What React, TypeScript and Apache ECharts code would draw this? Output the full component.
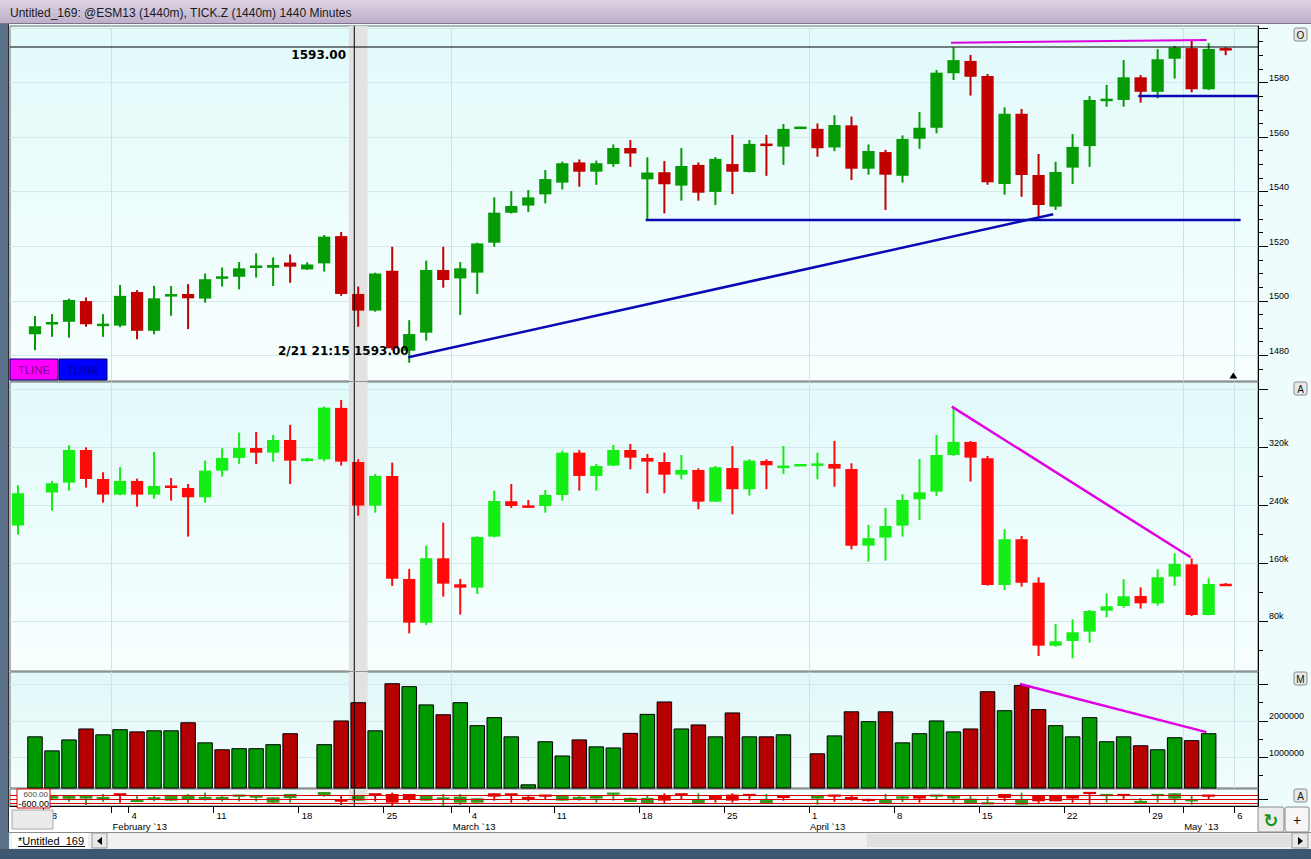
import { useEffect, useRef } from 'react';
import * as echarts from 'echarts';

const TITLE = 'Untitled_169: @ESM13 (1440m), TICK.Z (1440m) 1440 Minutes';
const MONTH_NAMES = ['January', 'February', 'March', 'April', 'May', 'June'];
const FIRST_DAY = [2013, 0, 24];
const LAST_DAY = [2013, 4, 6];

// ---- @ESM13 daily candles (slot 0 = Jan 24) ----
const priceOpen = [null, 1487.7, 1491.4, 1492.3, 1499.9, 1490.9, 1490.9, 1503.2, 1489.0, 1501.8, 1502.5, 1500.8, 1508.3, 1508.8, 1512.3, 1512.1, 1514.0, 1511.5, 1513.7, 1523.7, 1502.5, 1496.4, 1511.0, 1481.7, 1488.3, 1511.3, 1508.2, 1510.3, 1521.3, 1532.3, 1534.9, 1539.0, 1543.3, 1550.7, 1547.3, 1550.1, 1556.0, 1544.5, 1547.1, 1542.2, 1549.8, 1539.9, 1550.1, 1547.2, 1557.5, 1556.5, 1563.25, 1563.0, 1556.2, 1564.3, 1548.4, 1554.5, 1545.8, 1559.4, 1563.4, 1583.4, 1587.9, 1582.4, 1542.8, 1568.5, 1546.1, 1534.5, 1548.8, 1556.7, 1573.3, 1573.6, 1581.9, 1576.6, 1588.7, 1592.6, 1577.5, 1592.6];
const priceHigh = [null, 1494.4, 1495.1, 1500.8, 1501.2, 1495.1, 1505.8, 1503.9, 1505.5, 1505.4, 1506.1, 1510.0, 1512.2, 1514.2, 1517.4, 1515.9, 1517.0, 1514.1, 1524.1, 1525.2, 1505.2, 1510.3, 1519.8, 1492.9, 1514.7, 1519.8, 1514.2, 1521.3, 1537.9, 1540.2, 1540.6, 1547.9, 1551.0, 1551.8, 1551.4, 1557.3, 1558.9, 1552.6, 1551.2, 1556.0, 1550.7, 1552.7, 1560.8, 1558.9, 1560.8, 1564.8, 1563.75, 1565.0, 1568.0, 1567.5, 1557.3, 1555.3, 1560.6, 1569.2, 1584.6, 1592.9, 1590.1, 1583.1, 1570.9, 1570.3, 1553.8, 1550.9, 1561.1, 1575.0, 1579.1, 1588.2, 1582.7, 1592.2, 1593.4, 1595.3, 1594.4, 1592.9];
const priceLow = [null, 1481.9, 1486.8, 1486.5, 1490.5, 1486.8, 1490.3, 1485.9, 1487.7, 1494.5, 1489.6, 1499.3, 1505.2, 1504.2, 1508.5, 1505.4, 1506.6, 1511.3, 1510.7, 1501.8, 1490.5, 1496.0, 1481.9, 1477.3, 1485.4, 1504.8, 1494.8, 1502.5, 1519.8, 1532.0, 1532.5, 1535.7, 1540.8, 1541.8, 1542.5, 1549.1, 1549.1, 1529.6, 1532.0, 1536.7, 1536.7, 1535.1, 1539.1, 1547.0, 1545.8, 1549.8, 1563.0, 1552.8, 1554.8, 1544.3, 1546.2, 1533.3, 1543.3, 1555.7, 1561.4, 1580.9, 1575.2, 1542.5, 1538.9, 1538.1, 1530.8, 1533.3, 1542.8, 1549.1, 1571.1, 1571.1, 1572.6, 1574.2, 1581.4, 1576.4, 1577.3, 1590.0];
const priceClose = [null, 1490.7, 1492.1, 1500.3, 1491.4, 1491.4, 1501.8, 1489.0, 1500.9, 1502.2, 1500.9, 1507.9, 1508.7, 1511.9, 1512.7, 1513.1, 1512.5, 1513.3, 1523.5, 1502.5, 1496.4, 1510.0, 1482.6, 1487.8, 1511.3, 1507.6, 1511.9, 1521.0, 1532.3, 1534.7, 1537.9, 1544.6, 1550.4, 1547.3, 1550.4, 1556.0, 1554.0, 1547.0, 1542.7, 1549.4, 1539.6, 1552.0, 1547.3, 1557.5, 1556.8, 1563.0, 1563.5, 1555.9, 1564.4, 1548.4, 1554.9, 1546.2, 1559.3, 1563.4, 1583.6, 1588.2, 1582.1, 1543.4, 1568.5, 1546.1, 1535.1, 1547.2, 1556.4, 1573.6, 1573.9, 1581.9, 1576.6, 1588.5, 1592.8, 1577.5, 1592.3, 1591.7];

// ---- TICK.Z daily candles (thousands) ----
const tickOpen = [211.8, null, 257.4, 271.2, 316.3, 276.2, 254.6, 273.5, 254.6, 266.6, 263.8, 250.9, 287.8, 305.3, 319.1, 312.6, 330.1, 302.0, 303.4, 374.4, 299.7, 239.4, 280.4, 138.1, 77.7, 166.6, 130.7, 126.1, 196.6, 245.4, 239.4, 238.9, 254.1, 312.6, 280.4, 294.7, 316.3, 305.3, 299.7, 282.2, 288.7, 244.9, 291.4, 262.0, 301.1, 292.4, 295.0, 295.1, 297.0, 290.1, 184.1, 195.2, 211.8, 248.1, 258.7, 309.4, 327.4, 304.8, 129.8, 192.9, 133.0, 45.9, 52.4, 65.3, 94.3, 100.7, 114.6, 104.4, 141.3, 158.3, 88.3, 130.7];
const tickHigh = [267.5, null, 273.5, 322.8, 320.0, 285.5, 292.4, 276.7, 313.6, 277.6, 269.3, 301.6, 318.6, 340.3, 341.2, 337.0, 350.9, 305.3, 376.2, 385.4, 303.4, 283.2, 298.8, 151.9, 184.1, 215.9, 138.1, 197.0, 260.1, 269.3, 247.2, 261.0, 315.4, 316.3, 297.0, 323.2, 324.6, 310.8, 312.6, 309.4, 291.0, 294.2, 321.8, 303.4, 303.4, 321.8, 295.5, 312.6, 328.8, 297.9, 212.7, 236.2, 255.1, 303.9, 337.0, 376.2, 328.8, 308.0, 206.7, 197.5, 140.4, 75.9, 82.3, 95.2, 118.2, 137.6, 126.5, 151.4, 173.5, 166.6, 139.0, 132.5];
const tickLow = [199.3, null, 232.5, 260.1, 264.3, 243.5, 253.7, 238.0, 249.1, 246.3, 196.6, 243.5, 279.5, 297.0, 297.0, 300.2, 269.3, 300.2, 300.7, 294.7, 225.6, 229.7, 128.4, 62.9, 74.5, 113.6, 88.8, 117.3, 195.6, 236.2, 236.2, 229.7, 246.3, 260.1, 260.1, 294.2, 289.6, 256.4, 256.4, 275.8, 234.3, 244.5, 227.4, 253.2, 262.0, 283.2, 295.0, 275.8, 265.6, 179.0, 162.0, 163.4, 196.6, 219.6, 252.8, 308.0, 272.6, 128.8, 122.9, 127.5, 31.7, 44.6, 28.4, 50.1, 85.1, 98.4, 97.1, 101.2, 128.8, 86.9, 87.9, 128.8];
const tickClose = [256.4, null, 270.3, 316.3, 276.2, 254.6, 273.5, 254.6, 266.6, 264.3, 250.9, 287.8, 305.3, 319.1, 312.6, 330.1, 301.6, 303.4, 374.8, 300.2, 239.4, 280.4, 138.5, 77.7, 166.6, 131.6, 126.1, 196.1, 245.8, 238.9, 236.6, 254.1, 312.6, 280.4, 294.2, 316.3, 305.7, 300.2, 282.2, 288.7, 244.9, 292.4, 262.0, 301.6, 295.1, 293.7, 295.5, 297.0, 290.5, 184.1, 194.3, 211.3, 247.2, 257.8, 309.4, 327.4, 305.7, 129.8, 192.9, 133.0, 45.9, 51.9, 64.4, 93.8, 100.3, 114.1, 104.4, 140.4, 158.8, 88.3, 131.1, 128.8];

// ---- Volume ----
const volume = [null, 1575000, 1190000, 1490000, 1790000, 1630000, 1770000, 1710000, 1740000, 1740000, 1960000, 1410000, 1220000, 1250000, 1250000, 1360000, 1660000, null, 1360000, 2010000, 2510000, 1740000, 3030000, 2950000, 2450000, 2180000, 2510000, 1880000, 2100000, 1575000, 260000, 1440000, 1050000, 1490000, 1300000, 1270000, 1670000, 2190000, 2530000, 1790000, 1900000, 1575000, 2230000, 1575000, 1575000, 1630000, null, 1110000, 1600000, 2260000, 1990000, 2260000, 1410000, 1660000, 2010000, 1710000, 1790000, 2810000, 2290000, 2980000, 2320000, 1880000, 1575000, 2100000, 1440000, 1575000, 1330000, 1220000, 1550000, 1470000, 1660000, null];
const volumeUp = [null, 1, 1, 1, 0, 1, 1, 0, 1, 1, 0, 1, 0, 1, 1, 1, 0, null, 1, 0, 0, 1, 0, 1, 1, 0, 1, 1, 1, 1, 1, 1, 1, 0, 1, 1, 0, 1, 0, 1, 0, 1, 0, 1, 0, 1, null, 0, 1, 0, 1, 0, 1, 1, 1, 1, 0, 0, 1, 0, 0, 1, 1, 1, 1, 1, 0, 1, 1, 0, 1, null];

// ---- Bottom indicator strip ----
const stripOpen = [null, null, 100, 100, 100, 150, 800, -400, 100, -200, -100, 150, 150, 500, 350, -500, 200, null, 500, -150, -200, 800, 800, 800, -200, 100, -500, -500, 900, 800, 250, 600, -200, 150, 100, 800, -400, -700, 500, 800, -600, 500, 700, 700, -600, 400, null, 100, 600, 250, -50, -600, 250, 600, 500, 100, -600, -650, 800, -800, 600, 600, 600, 1000, 600, 700, -450, 600, 100, -300, 600, null];
const stripHigh = [null, null, 500, 500, 500, 800, 800, 500, 600, 600, 800, 1000, 600, 600, 600, 300, 800, null, 1100, 500, 600, 800, 1000, 800, 600, 800, 800, 150, 900, 800, 600, 600, 500, 500, 600, 900, 300, 650, 900, 800, 900, 500, 900, 700, 800, 400, null, 600, 600, 600, 100, 800, 600, 600, 600, 600, 600, 400, 800, 1000, 600, 600, 600, 1000, 700, 700, 200, 700, 900, 600, 600, null];
const stripLow = [null, null, -100, -350, -850, -350, -500, -400, -300, -200, -500, -200, -300, -300, -300, -500, -500, null, 400, -850, -200, -350, -1100, -500, -200, -1100, -850, -500, -200, -500, -300, -100, -200, -200, -500, -200, -400, -700, -700, -100, -600, -500, -500, -200, -600, -200, null, -800, -400, -200, -350, -600, -400, -500, -100, -500, -600, -650, -300, -800, -600, -300, -500, -800, -500, -100, -450, -500, -500, -800, -100, null];
const stripClose = [null, null, 500, 500, 500, 250, 700, -100, 200, 600, 500, 250, 250, 600, 450, 300, 800, null, 1100, -250, 600, 700, -500, 0, 600, 150, 400, 150, 400, 700, 150, 500, 500, 250, 600, 900, 200, 200, -200, 700, -100, -100, -200, 600, 0, 300, null, 600, 500, 150, -150, 0, 300, 100, 600, 600, 100, -550, 200, -100, -300, -300, 100, 900, 700, 600, -350, 700, 900, 0, 500, null];
const stripLevels = [600, 0, -600];

// ---- Axis ticks ----
const priceLabels = [1480, 1500, 1520, 1540, 1560, 1580];
const priceMajor = [1480, 1500, 1520, 1540, 1560, 1580, 1600];
const priceMinor = [1475, 1485, 1490, 1495, 1505, 1510, 1515, 1525, 1530, 1535, 1545, 1550, 1555, 1565, 1570, 1575, 1585, 1590, 1595];
const tickLabels = [80, 160, 240, 320];
const tickMajor = [80, 160, 240, 320, 400];
const tickMinor = [40, 120, 200, 280, 360];
const volumeLabels = [1000000, 2000000];
const volumeMajor = [1000000, 2000000, 3000000];
const volumeMinor = [500000, 1500000, 2500000];

// ---- Drawn annotations (slot, value) ----
const priceResistance = [[54.85, 1594.6], [69.88, 1595.6]];
const priceSupportLow = [[36.9, 1529.6], [71.88, 1529.6]];
const priceUptrend = [[22.95, 1479.3], [60.86, 1531.7]];
const priceSupportHigh = [[65.86, 1575.05], [72.9, 1575.05]];
const tickDivergence = [[54.9, 376.2], [68.94, 168.0]];
const volumeDivergence = [[58.9, 3010000], [69.87, 1690000]];
const cursorSlot = 19.77;
const cursorBand = [19.45, 20.55];
const cursorPrice = 1593;
const lastBarMarker = [71.45, 1472.6];

const X_MIN = -0.47;
const X_MAX = 72.9;
const PRICE_RANGE = [1470.6, 1600.7];
const TICK_RANGE = [10.9, 410.2];
const VOLUME_RANGE = [159000, 3337000];
const STRIP_RANGE = [-1005, 1545];

const FONT = '"Liberation Sans", Arial, sans-serif';
const BOLD = 'bold 12px "DejaVu Sans", Verdana, sans-serif';

function buildDays() {
  const out: { y: number; m: number; d: number; wd: number }[] = [];
  const start = Date.UTC(FIRST_DAY[0], FIRST_DAY[1], FIRST_DAY[2]);
  const end = Date.UTC(LAST_DAY[0], LAST_DAY[1], LAST_DAY[2]);
  for (let t = start; t <= end; t += 86400000) {
    const dt = new Date(t);
    const wd = dt.getUTCDay();
    if (wd === 0 || wd === 6) continue;
    out.push({ y: dt.getUTCFullYear(), m: dt.getUTCMonth(), d: dt.getUTCDate(), wd });
  }
  return out;
}

function ohlc(o: any[], c: any[], l: any[], h: any[]) {
  const out: number[][] = [];
  o.forEach((v, i) => {
    if (v == null) return;
    out.push([i, v, c[i], l[i], h[i]]);
  });
  return out;
}

function candleRenderer(up: string, down: string, bodyRatio: number, wick: number, minBody: number) {
  return (_params: any, api: any) => {
    const x = api.value(0);
    const o = api.value(1);
    const c = api.value(2);
    const l = api.value(3);
    const h = api.value(4);
    const po = api.coord([x, o]);
    const pc = api.coord([x, c]);
    const pl = api.coord([x, l]);
    const ph = api.coord([x, h]);
    const bw = api.size([1, 0])[0] * bodyRatio;
    const color = c >= o ? up : down;
    let top = Math.min(po[1], pc[1]);
    let bottom = Math.max(po[1], pc[1]);
    if (bottom - top < minBody) {
      const mid = (top + bottom) / 2;
      top = mid - minBody / 2;
      bottom = mid + minBody / 2;
    }
    return {
      type: 'group',
      children: [
        { type: 'rect', shape: { x: po[0] - wick / 2, y: ph[1], width: wick, height: Math.max(pl[1] - ph[1], 1) }, style: { fill: color } },
        { type: 'rect', shape: { x: po[0] - bw / 2, y: top, width: bw, height: bottom - top }, style: { fill: color } },
      ],
    };
  };
}

function buildOption() {
  const days = buildDays();
  const weekTicks: number[] = [];
  const weekLabel = new Map<string, string>();
  const monthTicks: number[] = [];
  const monthLabel = new Map<string, string>();
  days.forEach((d, i) => {
    if (d.wd === 1) {
      weekTicks.push(i - 0.5);
      weekLabel.set((i - 0.5).toFixed(1), String(d.d));
    }
    if (i > 0 && d.m !== days[i - 1].m) {
      monthTicks.push(i - 0.5);
      monthLabel.set((i - 0.5).toFixed(1), `${MONTH_NAMES[d.m]} \`${String(d.y).slice(2)}`);
    }
  });
  const dateTicks = Array.from(new Set([...weekTicks, ...monthTicks])).sort((a, b) => a - b);
  const gridLinesX = [...monthTicks, weekTicks[weekTicks.length - 1]];

  const paneBg = (top: string, bottom: string) => ({
    type: 'linear', x: 0, y: 0, x2: 0, y2: 1,
    colorStops: [{ offset: 0, color: top }, { offset: 1, color: bottom }],
  });
  const gridBase = { left: 10, right: 53, show: true, borderColor: '#6e6e6e', borderWidth: 1, outerBoundsMode: 'none', containLabel: false };
  const grids = [
    { ...gridBase, top: 26, height: 355, backgroundColor: paneBg('#e2fafa', '#f8ffff') },
    { ...gridBase, top: 382, height: 289, backgroundColor: paneBg('#e2fafa', '#f8ffff') },
    { ...gridBase, top: 672, height: 116, backgroundColor: paneBg('#e0f8f8', '#f2fdfd') },
    { ...gridBase, top: 789, height: 17, backgroundColor: '#f4fefe' },
  ];

  const xPane = (gi: number) => ({
    type: 'value', gridIndex: gi, min: X_MIN, max: X_MAX,
    axisLine: { show: false, onZero: false },
    axisTick: { show: false, customValues: gridLinesX },
    axisLabel: { show: false },
    splitLine: { show: true, lineStyle: { color: '#cde4e7', width: 1 } },
  });
  const dateLabelStyle = { fontSize: 9.5, color: '#000', fontFamily: FONT, align: 'left', verticalAlign: 'top' };
  const xAxis = [
    xPane(0), xPane(1), xPane(2),
    {
      type: 'value', gridIndex: 3, min: X_MIN, max: X_MAX, position: 'bottom',
      axisLine: { show: true, onZero: false, lineStyle: { color: '#000', width: 1 } },
      axisTick: { show: true, customValues: dateTicks, length: 7, lineStyle: { color: '#000' } },
      axisLabel: { show: true, customValues: weekTicks, margin: 4, padding: [0, 0, 0, 3], formatter: (v: number) => weekLabel.get(v.toFixed(1)) ?? '', ...dateLabelStyle },
      splitLine: { show: false },
    },
    {
      type: 'value', gridIndex: 3, min: X_MIN, max: X_MAX, position: 'bottom',
      axisLine: { show: false, onZero: false }, axisTick: { show: false },
      axisLabel: { show: true, customValues: monthTicks, margin: 15, padding: [0, 0, 0, 1], formatter: (v: number) => monthLabel.get(v.toFixed(1)) ?? '', ...dateLabelStyle },
      splitLine: { show: false },
    },
  ];

  const yMajor = (gi: number, range: number[], ticks: number[], labels: number[], fmt: (v: number) => string, split: boolean) => ({
    type: 'value', gridIndex: gi, min: range[0], max: range[1], position: 'right',
    axisLine: { show: true, onZero: false, lineStyle: { color: '#000', width: 1 } },
    axisTick: { show: true, inside: false, customValues: ticks, length: 10, lineStyle: { color: '#000' } },
    axisLabel: { show: labels.length > 0, customValues: labels, formatter: fmt, margin: 11, verticalAlign: 'bottom', fontSize: 9, color: '#000', fontFamily: FONT },
    splitLine: { show: split, lineStyle: { color: '#d2e8ea', width: 1 } },
  });
  const yMinor = (gi: number, range: number[], ticks: number[]) => ({
    type: 'value', gridIndex: gi, min: range[0], max: range[1], position: 'right',
    axisLine: { show: false, onZero: false },
    axisTick: { show: true, inside: false, customValues: ticks, length: 5, lineStyle: { color: '#000' } },
    axisLabel: { show: false }, splitLine: { show: false },
  });
  const yAxis = [
    yMajor(0, PRICE_RANGE, priceMajor, priceLabels, (v) => String(v), true),
    yMinor(0, PRICE_RANGE, priceMinor),
    yMajor(1, TICK_RANGE, tickMajor, tickLabels, (v) => `${v}k`, true),
    yMinor(1, TICK_RANGE, tickMinor),
    yMajor(2, VOLUME_RANGE, volumeMajor, volumeLabels, (v) => String(v), true),
    yMinor(2, VOLUME_RANGE, volumeMinor),
    yMajor(3, STRIP_RANGE, [0], [], (v) => String(v), false),
  ];

  const band = {
    silent: true, label: { show: false },
    itemStyle: { color: '#e2e2e2', opacity: 1 },
    data: [[{ xAxis: cursorBand[0] }, { xAxis: cursorBand[1] }]],
  };
  const lineSeries = (xi: number, yi: number, pts: number[][], color: string, width: number, z = 5) => ({
    type: 'line', xAxisIndex: xi, yAxisIndex: yi, data: pts, symbol: 'none', silent: true,
    lineStyle: { color, width }, z, clip: true,
  });
  const cursor = (xi: number, yi: number, range: number[]) =>
    lineSeries(xi, yi, [[cursorSlot, range[0]], [cursorSlot, range[1]]], '#000', 1, 4);

  const volumeData = volume
    .map((v, i) => (v == null ? null : { value: [i, v], itemStyle: { color: volumeUp[i] ? '#009a00' : '#b40000' } }))
    .filter((d) => d != null);

  const series: any[] = [
    {
      type: 'custom', xAxisIndex: 0, yAxisIndex: 0, clip: true, z: 2,
      renderItem: candleRenderer('#049b04', '#c20000', 0.72, 2, 2.5),
      encode: { x: 0, y: [1, 2, 3, 4] },
      data: ohlc(priceOpen, priceClose, priceLow, priceHigh),
      markArea: band,
      markPoint: {
        silent: true, label: { show: false },
        data: [{ coord: lastBarMarker, symbol: 'triangle', symbolSize: [8, 6], itemStyle: { color: '#000' } }],
      },
    },
    {
      type: 'custom', xAxisIndex: 1, yAxisIndex: 2, clip: true, z: 2,
      renderItem: candleRenderer('#14ee14', '#ff0a0a', 0.72, 2, 2.5),
      encode: { x: 0, y: [1, 2, 3, 4] },
      data: ohlc(tickOpen, tickClose, tickLow, tickHigh),
      markArea: band,
    },
    {
      type: 'bar', xAxisIndex: 2, yAxisIndex: 4, barWidth: 15.5, clip: true, z: 2,
      itemStyle: { borderColor: '#000', borderWidth: 1 },
      data: volumeData,
      markArea: band,
    },
    {
      type: 'custom', xAxisIndex: 3, yAxisIndex: 6, clip: true, z: 2,
      renderItem: candleRenderer('#2f9a1c', '#e00000', 0.75, 1.8, 2.2),
      encode: { x: 0, y: [1, 2, 3, 4] },
      data: ohlc(stripOpen, stripClose, stripLow, stripHigh),
      markArea: band,
      markLine: {
        silent: true, symbol: 'none', label: { show: false },
        lineStyle: { color: '#dd0000', width: 1, type: 'solid' },
        data: stripLevels.map((v) => ({ yAxis: v })),
      },
    },
    cursor(0, 0, PRICE_RANGE),
    cursor(1, 2, TICK_RANGE),
    cursor(2, 4, VOLUME_RANGE),
    cursor(3, 6, STRIP_RANGE),
    lineSeries(0, 0, [[X_MIN, cursorPrice], [X_MAX, cursorPrice]], '#000', 1, 4),
    lineSeries(0, 0, priceResistance, '#e000e0', 2),
    lineSeries(0, 0, priceSupportLow, '#0a0ab4', 2.5),
    lineSeries(0, 0, priceUptrend, '#0a0ab4', 2.5),
    lineSeries(0, 0, priceSupportHigh, '#0a0ab4', 2.5),
    lineSeries(1, 2, tickDivergence, '#e000e0', 2.5),
    lineSeries(2, 4, volumeDivergence, '#e000e0', 2.5),
  ];

  const titleGrad = new echarts.graphic.LinearGradient(0, 0, 0, 1, [
    { offset: 0, color: '#ddd4e4' },
    { offset: 1, color: '#bcaec9' },
  ]);
  const btn = (x: number, y: number, w: number, h: number, label: string, fill = '#e9e9e9', fontSize = 10, color = '#111', font = FONT, weight = 'normal') => [
    { type: 'rect', z: 100, shape: { x, y, width: w, height: h, r: 2 }, style: { fill, stroke: '#8a8a8a', lineWidth: 1 } },
    { type: 'text', z: 101, x: x + w / 2, y: y + h / 2 + 0.5, style: { text: label, fill: color, font: `${weight} ${fontSize}px ${font}`, align: 'center', verticalAlign: 'middle' } },
  ];

  const graphic: any[] = [
    // date axis background
    { type: 'rect', z: -5, shape: { x: 9, y: 807, width: 1249, height: 25 }, style: { fill: '#ffffff' } },
    // title bar
    { type: 'rect', z: 100, shape: { x: 0, y: 0, width: 1311, height: 24 }, style: { fill: titleGrad } },
    { type: 'rect', z: 100, shape: { x: 0, y: 23, width: 1311, height: 1 }, style: { fill: '#7e7288' } },
    { type: 'text', z: 101, x: 10, y: 12.5, style: { text: TITLE, fill: '#1a1a1a', font: `12px ${FONT}`, align: 'left', verticalAlign: 'middle' } },
    // left frame
    { type: 'rect', z: 100, shape: { x: 0, y: 24, width: 9, height: 835 }, style: { fill: '#5b718a' } },
    { type: 'rect', z: 100, shape: { x: 8, y: 24, width: 1, height: 808 }, style: { fill: '#2d2d2d' } },
    // date area left box
    { type: 'rect', z: 100, shape: { x: 12, y: 810, width: 41, height: 19 }, style: { fill: '#ebebeb', stroke: '#a8a8a8', lineWidth: 1 } },
    // tab bar
    { type: 'rect', z: 100, shape: { x: 9, y: 832, width: 1302, height: 17 }, style: { fill: '#f0f0f0' } },
    { type: 'rect', z: 100, shape: { x: 9, y: 832, width: 1302, height: 1 }, style: { fill: '#8c8c8c' } },
    { type: 'rect', z: 100, shape: { x: 12, y: 833, width: 76, height: 15 }, style: { fill: '#ffffff' } },
    { type: 'text', z: 101, x: 18, y: 840.5, style: { text: '*Untitled_169', fill: '#000', font: `11px ${FONT}`, align: 'left', verticalAlign: 'middle' } },
    { type: 'rect', z: 101, shape: { x: 18, y: 846, width: 67, height: 1 }, style: { fill: '#000' } },
    { type: 'rect', z: 100, shape: { x: 92, y: 833, width: 15, height: 15 }, style: { fill: '#e8e8e8', stroke: '#9a9a9a', lineWidth: 1 } },
    { type: 'polygon', z: 101, shape: { points: [[102, 837], [102, 845], [97, 841]] }, style: { fill: '#000' } },
    { type: 'rect', z: 100, shape: { x: 867, y: 834, width: 424, height: 13 }, style: { fill: '#e0e0e0' } },
    { type: 'rect', z: 100, shape: { x: 1292, y: 833, width: 16, height: 15 }, style: { fill: '#e8e8e8', stroke: '#9a9a9a', lineWidth: 1 } },
    { type: 'polygon', z: 101, shape: { points: [[1298, 837], [1298, 845], [1303, 841]] }, style: { fill: '#000' } },
    // bottom frame
    { type: 'rect', z: 100, shape: { x: 0, y: 849, width: 1311, height: 10 }, style: { fill: '#3c576f' } },
    // bottom-right buttons
    ...btn(1258, 807, 26, 25, '↻', '#ececec', 18, '#1c941c', '"DejaVu Sans", sans-serif', 'bold'),
    ...btn(1285, 807, 24, 25, '+', '#f6f6f6', 14, '#111'),
    // pane buttons
    ...btn(1294, 28, 13, 13, 'O'),
    ...btn(1294, 382, 13, 13, 'A'),
    ...btn(1294, 672, 13, 13, 'M'),
    ...btn(1294, 789, 13, 13, 'A'),
    // TLINE buttons
    { type: 'rect', z: 100, shape: { x: 10, y: 359, width: 48, height: 21 }, style: { fill: '#ff00ff', stroke: '#000080', lineWidth: 1 } },
    { type: 'text', z: 101, x: 34, y: 370, style: { text: 'TLINE', fill: '#7a0090', font: `11.5px ${FONT}`, align: 'center', verticalAlign: 'middle' } },
    { type: 'rect', z: 100, shape: { x: 59, y: 359, width: 48, height: 21 }, style: { fill: '#0000ff', stroke: '#000060', lineWidth: 1 } },
    { type: 'text', z: 101, x: 83, y: 370, style: { text: 'TLINE', fill: '#000090', font: `11.5px ${FONT}`, align: 'center', verticalAlign: 'middle' } },
    // strip level labels
    { type: 'rect', z: 100, shape: { x: 17, y: 789, width: 33, height: 19 }, style: { fill: '#ffffff', stroke: '#dd0000', lineWidth: 1 } },
    { type: 'text', z: 101, x: 48, y: 794, style: { text: '600.00', fill: '#444', font: `8px ${FONT}`, align: 'right', verticalAlign: 'middle' } },
    { type: 'text', z: 101, x: 49, y: 803.5, style: { text: '-600.00', fill: '#000', font: `9px ${FONT}`, align: 'right', verticalAlign: 'middle' } },
    // cursor read-outs
    { type: 'text', z: 101, x: 346, y: 54.5, style: { text: '1593.00', fill: '#000', font: BOLD, align: 'right', verticalAlign: 'middle' } },
    { type: 'text', z: 101, x: 278, y: 351, style: { text: '2/21 21:15 1593.00', fill: '#000', font: BOLD, align: 'left', verticalAlign: 'middle' } },
  ];

  return {
    animation: false,
    backgroundColor: '#eefcfc',
    textStyle: { fontFamily: FONT },
    grid: grids,
    xAxis,
    yAxis,
    series,
    graphic,
  };
}

export default function App() {
  const ref = useRef<HTMLDivElement>(null);
  useEffect(() => {
    document.body.style.margin = '0';
    const chart = echarts.init(ref.current as HTMLDivElement, undefined, { renderer: 'svg' });
    chart.setOption(buildOption() as any);
    return () => chart.dispose();
  }, []);
  return <div ref={ref} style={{ width: 1311, height: 859 }} />;
}
